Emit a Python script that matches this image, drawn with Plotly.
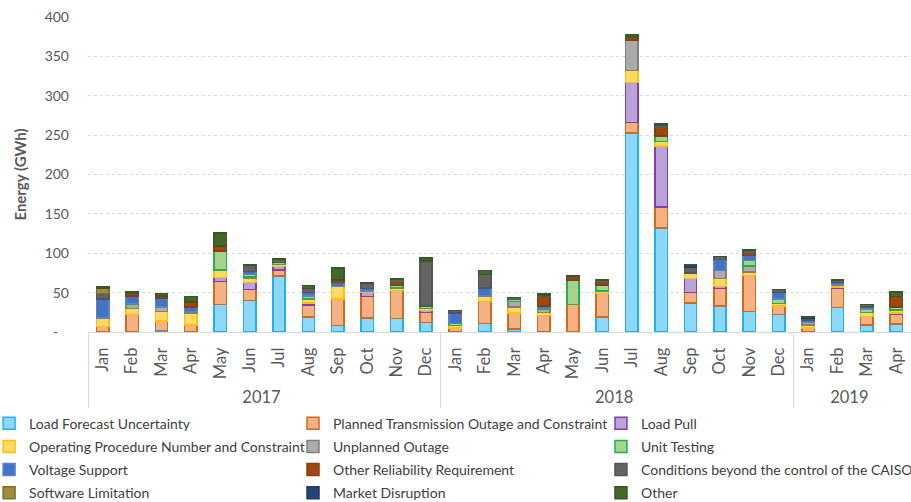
import plotly.graph_objects as go

years = ["2017"] * 12 + ["2018"] * 12 + ["2019"] * 4
months = ["Jan", "Feb", "Mar", "Apr", "May", "Jun", "Jul", "Aug", "Sep", "Oct", "Nov", "Dec"] * 2 + ["Jan", "Feb", "Mar", "Apr"]

load_forecast = [0, 0, 2, 0, 35, 40, 71, 19, 8, 18, 17, 12, 0, 11, 4, 0, 0, 19, 253, 132, 37, 33, 26, 22, 0, 31, 9, 10]
planned_transmission = [7, 22, 12, 9, 29, 14, 8, 15, 33, 27, 36, 13, 5, 28, 20, 21, 35, 30, 13, 27, 13, 22, 46, 11, 5, 24, 11, 13]
load_pull = [0, 0, 0, 0, 5, 9, 4, 3, 1, 5, 0, 2, 0, 0, 0, 0, 0, 0, 51, 77, 18, 3, 0, 0, 0, 2, 0, 1]
operating_procedure = [11, 8, 12, 15, 10, 5, 3, 5, 16, 2, 3, 3, 3, 7, 8, 4, 0, 3, 15, 6, 7, 10, 4, 3, 4, 3, 5, 4]
unplanned_outage = [0, 5, 5, 2, 0, 2, 0, 0, 0, 0, 0, 0, 0, 0, 7, 4, 0, 0, 39, 0, 0, 10, 8, 0, 3, 0, 0, 0]
unit_testing = [0, 1, 1, 0, 24, 3, 2, 4, 0, 0, 4, 3, 3, 0, 2, 1, 31, 8, 0, 7, 0, 0, 7, 6, 0, 0, 4, 4]
voltage_support = [24, 10, 11, 6, 0, 4, 0, 4, 5, 3, 0, 0, 13, 10, 0, 3, 0, 0, 0, 0, 0, 14, 6, 8, 3, 3, 3, 0]
other_reliability = [0, 3, 3, 6, 6, 0, 0, 0, 3, 0, 3, 0, 0, 0, 0, 13, 3, 3, 3, 11, 0, 0, 3, 0, 0, 0, 0, 13]
conditions_beyond = [7, 0, 0, 0, 0, 8, 5, 5, 0, 7, 4, 57, 3, 17, 3, 1, 2, 3, 1, 3, 7, 4, 4, 4, 3, 3, 3, 0]
software_limitation = [7, 0, 0, 0, 0, 0, 0, 0, 0, 0, 0, 0, 0, 0, 0, 0, 0, 0, 0, 0, 0, 0, 0, 0, 0, 0, 0, 0]
market_disruption = [0, 0, 0, 0, 0, 0, 0, 0, 0, 0, 0, 0, 0, 0, 0, 0, 0, 0, 0, 0, 4, 0, 0, 0, 1, 0, 0, 0]
other = [2, 2, 3, 7, 17, 0, 0, 4, 15, 0, 0, 4, 0, 5, 0, 1, 1, 0, 3, 2, 0, 0, 0, 0, 0, 0, 0, 6]

y_tick_vals = [0, 50, 100, 150, 200, 250, 300, 350, 400]
y_tick_text = ["-\u00a0\u00a0\u00a0", "50", "100", "150", "200", "250", "300", "350", "400"]

# (name, values, fill, edge, legend column)
series = [
    ("Load Forecast Uncertainty", load_forecast, "#8DD8F8", "#1CB4EE", "legend"),
    ("Planned Transmission Outage and Constraint", planned_transmission, "#F4B183", "#D2691E", "legend2"),
    ("Load Pull", load_pull, "#B9A3D6", "#7F3FB0", "legend3"),
    ("Operating Procedure Number and Constraint", operating_procedure, "#FFD966", "#FFC000", "legend"),
    ("Unplanned Outage", unplanned_outage, "#AEAAAA", "#7F7F7F", "legend2"),
    ("Unit Testing", unit_testing, "#A9D18E", "#1FB050", "legend3"),
    ("Voltage Support", voltage_support, "#4472C4", "#5B83CC", "legend"),
    ("Other Reliability Requirement", other_reliability, "#9E480E", "#8A3E0C", "legend2"),
    ("Conditions beyond the control of the CAISO", conditions_beyond, "#636363", "#555555", "legend3"),
    ("Software Limitation", software_limitation, "#A08B3E", "#7F6F2A", "legend"),
    ("Market Disruption", market_disruption, "#264478", "#1F3864", "legend2"),
    ("Other", other, "#43682B", "#385723", "legend3"),
]

fig = go.Figure()
for name, vals, fill, edge, leg in series:
    fig.add_trace(go.Bar(
        x=[years, months], y=vals, name=name, legend=leg, legendgroup=name,
        marker=dict(color=fill, line=dict(color=edge, width=1.5)),
    ))

leg_common = dict(
    orientation="v", yref="paper", y=-0.24, yanchor="top", xanchor="left",
    font=dict(size=14, color="#404040"), traceorder="grouped", tracegroupgap=2,
    itemclick=False, bgcolor="rgba(0,0,0,0)",
)

fig.update_layout(
    barmode="stack",
    bargap=0.58,
    width=911, height=502,
    margin=dict(l=88, r=0, t=17, b=170, autoexpand=False),
    plot_bgcolor="white", paper_bgcolor="white",
    font=dict(family="Lato, Noto Sans, sans-serif", color="#595959", size=14),
    legend=dict(x=-0.1202, **leg_common),
    legend2=dict(x=0.2491, **leg_common),
    legend3=dict(x=0.6233, **leg_common),
    showlegend=True,
)
fig.update_yaxes(
    range=[0, 400], tickvals=y_tick_vals, ticktext=y_tick_text,
    showgrid=True, gridcolor="#D9D9D9", griddash="dot", gridwidth=1,
    zeroline=False, showline=False, ticklabelstandoff=18, automargin=False,
    tickfont=dict(size=14, color="#595959"),
    title=dict(text="<b>Energy (GWh)</b>", font=dict(size=15, color="#595959"), standoff=14),
)
fig.update_xaxes(
    type="multicategory", tickangle=-90, automargin=False,
    showline=True, linecolor="#D9D9D9", linewidth=1,
    showdividers=True, dividercolor="#D9D9D9", dividerwidth=1,
    tickfont=dict(size=16.5, color="#595959"), ticklabelstandoff=8,
)

fig.write_html("out.html", config={"displayModeBar": False},
               post_script="document.body.style.margin='0';")
